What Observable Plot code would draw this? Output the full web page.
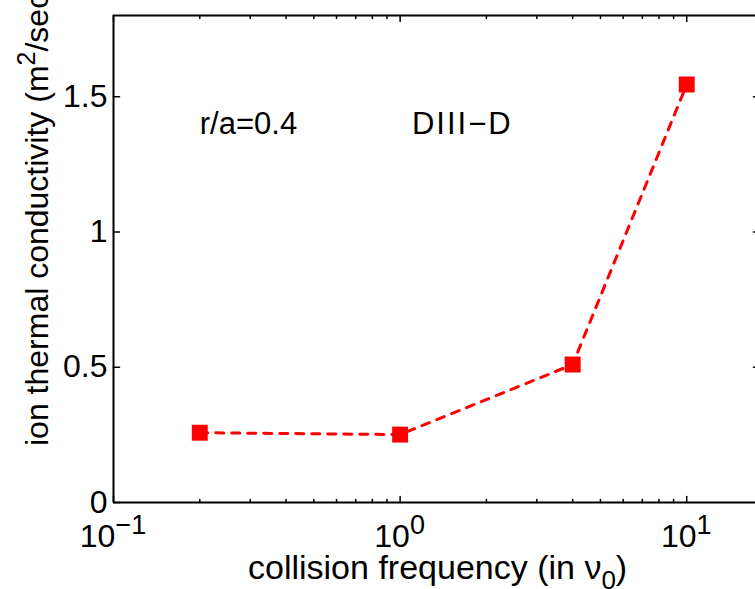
<!DOCTYPE html>
<html><head><meta charset="utf-8">
<script src="https://cdn.jsdelivr.net/npm/d3@7"></script>
<script src="https://cdn.jsdelivr.net/npm/@observablehq/plot@0.6"></script>
<style>html,body{margin:0;padding:0;background:#fff;overflow:hidden}</style>
</head><body><div id="chart"></div>
<script>
// data
const collisionFreq = [0.2, 1, 4, 10];
const conductivity = [0.258, 0.251, 0.51, 1.545];
// axes
const xDomain = [0.1, 17.8];
const yDomain = [0, 1.8];
const xMajorTicks = [0.1, 1, 10];
const xTickBase = ["10", "10", "10"];
const xTickExponents = ["\u22121", "0", "1"];
const xMinorTicks = [0.2,0.3,0.4,0.5,0.6,0.7,0.8,0.9,2,3,4,5,6,7,8,9];
const yTicks = [0, 0.5, 1, 1.5];
const yTickLabels = ["0", "0.5", "1", "1.5"];
// annotations
const annotX = [0.2, 1.1];
const annotY = [1.4, 1.4];
const annotText = ["r/a=0.4", "DIII\u2212D"];
const xLabel = ["collision frequency (in \u03bd", "0", ")"];
const yLabel = ["ion thermal conductivity (m", "2", "/sec)"];

const tickShape = {draw(ctx, l) { ctx.moveTo(0, 0); ctx.lineTo(0, -l); }};
const tickOpts = {anchor: "start", shape: tickShape, stroke: "black", strokeWidth: 1.5};

const plot = Plot.plot({
  width: 755, height: 589,
  marginLeft: 113, marginRight: 0, marginTop: 15, marginBottom: 87,
  style: {fontFamily: "'Liberation Sans', Arial, sans-serif", fontSize: "32px", background: "white", color: "black", overflow: "hidden"},
  x: {type: "log", domain: xDomain, range: [113, 758], axis: null},
  y: {domain: yDomain, axis: null},
  marks: [
    // bottom / top ticks (inward)
    Plot.vector(xMajorTicks, {x: d => d, y: () => yDomain[0], length: 6, rotate: 0, ...tickOpts}),
    Plot.vector(xMinorTicks, {x: d => d, y: () => yDomain[0], length: 3, rotate: 0, ...tickOpts}),
    Plot.vector(xMajorTicks, {x: d => d, y: () => yDomain[1], length: 6, rotate: 180, ...tickOpts}),
    Plot.vector(xMinorTicks, {x: d => d, y: () => yDomain[1], length: 3, rotate: 180, ...tickOpts}),
    // left / right ticks
    Plot.vector(yTicks, {x: () => xDomain[0], y: d => d, length: 6, rotate: 90, ...tickOpts}),
    Plot.vector(yTicks.slice(1), {x: () => xDomain[1], y: d => d, length: 5, rotate: 270, ...tickOpts}),
    // axes box (right side lies beyond the crop)
    Plot.ruleY(yDomain, {y: d => d, x1: () => xDomain[0], x2: () => xDomain[1], stroke: "black", strokeWidth: 2}),
    Plot.ruleX([xDomain[0]], {x: d => d, y1: () => yDomain[0], y2: () => yDomain[1], stroke: "black", strokeWidth: 2}),
    Plot.text(yTicks, {x: () => xDomain[0], y: d => d, text: (d, i) => yTickLabels[i], textAnchor: "end", dx: -6, fontSize: 32, fill: "black"}),
    Plot.text(annotText, {x: (d, i) => annotX[i], y: (d, i) => annotY[i], text: d => d, textAnchor: "start", fontSize: 31, fill: "black"}),
    Plot.line(collisionFreq, {x: d => d, y: (d, i) => conductivity[i], stroke: "#ff0000", strokeWidth: 3, strokeDasharray: "8,8"}),
    Plot.dot(collisionFreq, {x: d => d, y: (d, i) => conductivity[i], symbol: "square", r: 9, fill: "#ff0000", stroke: "none"})
  ]
});
document.getElementById("chart").appendChild(plot);

const svg = d3.select(plot);
const xs = plot.scale("x"), ys = plot.scale("y");
const ff = "'Liberation Sans', Arial, sans-serif";
const y0 = ys.apply(yDomain[0]);
// stretch the minus in DIII−D a little
svg.selectAll("text").filter(function() { return this.textContent === annotText[1]; }).attr("letter-spacing", 2);
// x tick labels with exponents
xMajorTicks.forEach((v, i) => {
  const t = svg.append("text")
    .attr("x", xs.apply(v)).attr("y", y0 + 45)
    .attr("text-anchor", "middle").attr("font-family", ff).attr("font-size", 32).attr("fill", "black");
  t.append("tspan").text(xTickBase[i]);
  t.append("tspan").attr("dy", -13).attr("font-size", 27).text(xTickExponents[i]);
});
// x label
const xl = svg.append("text")
  .attr("x", xs.apply(xDomain[0]) + 135).attr("y", y0 + 77)
  .attr("text-anchor", "start").attr("font-family", ff).attr("font-size", 34).attr("fill", "black");
xl.append("tspan").text(xLabel[0]);
xl.append("tspan").attr("dy", 10).attr("font-size", 26).text(xLabel[1]);
xl.append("tspan").attr("dy", -10).text(xLabel[2]);
// y label
const yl = svg.append("text")
  .attr("transform", `translate(48,${y0 - 56}) rotate(-90)`)
  .attr("text-anchor", "start").attr("font-family", ff).attr("font-size", 32).attr("fill", "black");
yl.append("tspan").text(yLabel[0]);
yl.append("tspan").attr("dy", -13).attr("font-size", 25).text(yLabel[1]);
yl.append("tspan").attr("dy", 13).text(yLabel[2]);
</script>
</body></html>
